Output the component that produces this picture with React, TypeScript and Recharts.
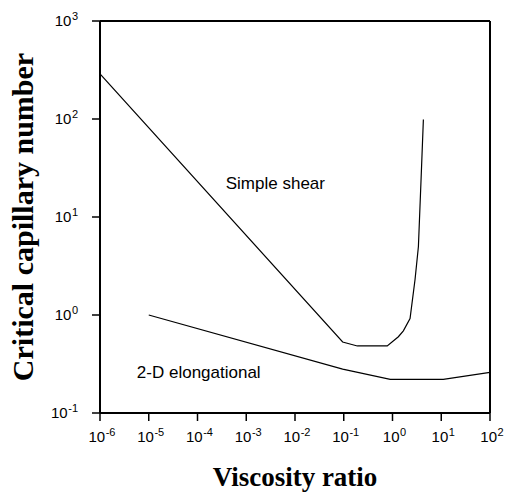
import React from 'react';
import { LineChart, Line, XAxis, YAxis, ReferenceLine, ReferenceDot } from 'recharts';

// viscosity ratio / critical capillary number
const shearRatio = [1e-6, 0.095, 0.19, 0.78, 1.32, 1.67, 2.29, 2.9, 3.4, 3.85, 4.3];
const shearCa = [288, 0.53, 0.483, 0.483, 0.6, 0.69, 0.92, 2.3, 5.0, 23.9, 99];
const elongRatio = [1e-5, 0.095, 0.9, 11, 100];
const elongCa = [1.0, 0.28, 0.22, 0.22, 0.26];
const xTicks = [1e-6, 1e-5, 1e-4, 1e-3, 1e-2, 1e-1, 1e0, 1e1, 1e2];
const yTicks = [1e-1, 1e0, 1e1, 1e2, 1e3];

const shearData = shearRatio.map((x, i) => ({ x, y: shearCa[i] }));
const elongData = elongRatio.map((x, i) => ({ x, y: elongCa[i] }));

const sans = '"Liberation Sans", Arial, sans-serif';
const serif = '"Liberation Serif", "Times New Roman", serif';

const XTick = (props: any) => {
  const { x, y, payload } = props;
  const e = Math.round(Math.log10(payload.value));
  return (
    <text x={x + 2} y={y + 19} textAnchor="middle" fontFamily={sans} fontSize={15} fill="#000">
      10<tspan dx={0.5} dy={-6} fontSize={11}>{e}</tspan>
    </text>
  );
};

// labels sit well clear of the tick marks, right edge near x=78
const YTick = (props: any) => {
  const { y, payload } = props;
  const e = Math.round(Math.log10(payload.value));
  return (
    <text x={78} y={y + 5} textAnchor="end" fontFamily={sans} fontSize={15} fill="#000">
      10<tspan dx={0.5} dy={-6} fontSize={11}>{e}</tspan>
    </text>
  );
};

const YTitle = (props: any) => {
  const { viewBox } = props;
  const cx = viewBox.x + 33;
  const cy = viewBox.y + viewBox.height / 2;
  return (
    <text x={cx} y={cy} transform={`rotate(-90, ${cx}, ${cy})`} textAnchor="middle"
      fontFamily={serif} fontWeight="bold" fontSize={30} fill="#000">
      Critical capillary number
    </text>
  );
};

const NoteLabel = (text: string) => (props: any) => {
  const { viewBox } = props;
  return (
    <text x={viewBox.x} y={viewBox.y + 6} fontFamily={sans} fontSize={17} fill="#000">
      {text}
    </text>
  );
};

export default function App() {
  return (
    <div style={{ position: 'absolute', left: 0, top: 0, background: '#fff' }}>
      <LineChart width={506} height={494} margin={{ top: 21, right: 16, left: 0, bottom: 0 }}>
        <XAxis
          dataKey="x"
          type="number"
          scale="log"
          domain={[1e-6, 100]}
          ticks={xTicks}
          interval={0}
          allowDataOverflow
          height={81}
          axisLine={{ stroke: '#000', strokeWidth: 2 }}
          tickLine={{ stroke: '#000', strokeWidth: 1.5 }}
          tickSize={8}
          tick={<XTick />}
          label={{ value: 'Viscosity ratio', position: 'insideBottom', offset: 8, fontFamily: serif, fontWeight: 'bold', fontSize: 27, fill: '#000' }}
        />
        <YAxis
          dataKey="y"
          type="number"
          scale="log"
          domain={[0.1, 1000]}
          ticks={yTicks}
          interval={0}
          allowDataOverflow
          width={100}
          axisLine={{ stroke: '#000', strokeWidth: 2 }}
          tickLine={{ stroke: '#000', strokeWidth: 1.5 }}
          tickSize={8}
          tick={<YTick />}
          label={<YTitle />}
        />
        <ReferenceLine y={1000} stroke="#000" strokeWidth={2} ifOverflow="visible" />
        <ReferenceLine x={100} stroke="#000" strokeWidth={2} ifOverflow="visible" />
        <Line data={shearData} dataKey="y" type="linear" stroke="#000" strokeWidth={1.2} dot={false} isAnimationActive={false} />
        <Line data={elongData} dataKey="y" type="linear" stroke="#000" strokeWidth={1.2} dot={false} isAnimationActive={false} />
        <ReferenceDot x={3.8e-4} y={22} r={0} ifOverflow="visible" label={NoteLabel('Simple shear')} />
        <ReferenceDot x={5.7e-6} y={0.26} r={0} ifOverflow="visible" label={NoteLabel('2-D elongational')} />
      </LineChart>
    </div>
  );
}
